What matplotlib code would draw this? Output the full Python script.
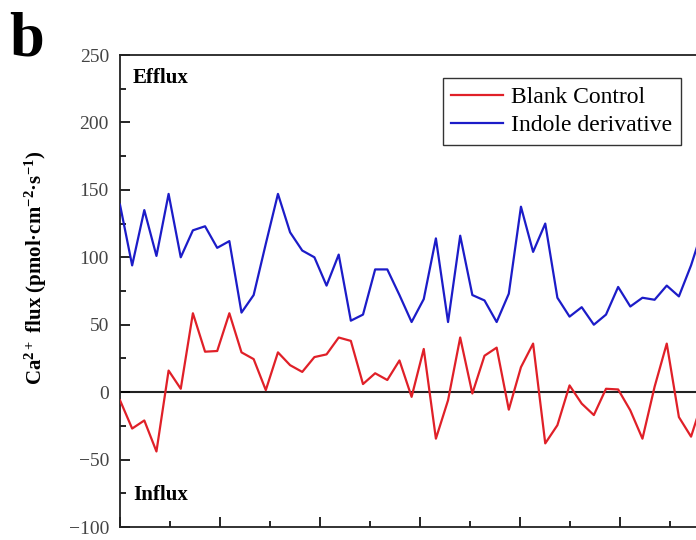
import numpy as np
import matplotlib
matplotlib.use('Agg')
import matplotlib.pyplot as plt
from matplotlib.ticker import MultipleLocator

# Ca2+ flux readings (pmol cm-2 s-1)
blank_control = [-6, -27, -21, -44, 16, 2.5, 58.5, 30, 30.5, 58.5,
                 29.5, 24.5, 1.5, 29.5, 20, 15, 26, 28, 40.5, 38,
                 6, 14, 9, 23.5, -3.5, 32, -34.5, -6, 40.5, -1,
                 27, 33, -13, 18.5, 36, -38, -24.5, 5, -8.5, -17,
                 2.5, 2, -13.5, -34.5, 4, 36, -18.5, -33, -5]
indole_derivative = [139, 94, 135, 101, 147, 100, 120, 123, 107, 112,
                     59, 72, 110, 147, 118.5, 105, 100, 79, 102, 53,
                     57.5, 91, 91, 72, 52, 69, 114, 52, 116, 72,
                     68, 52, 73, 137.5, 104, 125, 70, 56, 63, 50,
                     57.5, 78, 63.5, 70, 68.5, 79, 71, 94, 122]
interval = 0.1215  # sampling interval (min)
t = np.arange(len(blank_control)) * interval

plt.rcParams['font.family'] = ['Liberation Serif', 'DejaVu Serif']
plt.rcParams['mathtext.fontset'] = 'custom'
plt.rcParams['mathtext.rm'] = 'Liberation Serif'
plt.rcParams['mathtext.bf'] = 'Liberation Serif:bold'
plt.rcParams['mathtext.default'] = 'bf'

fig = plt.figure(figsize=(6.96, 5.4), dpi=100)
ax = fig.add_axes([120 / 696, 13 / 540, 600 / 696, 472 / 540])

ax.axhline(0, color='#222222', lw=1.5, zorder=1)
ax.plot(t, blank_control, color='#e02028', lw=1.6, label='Blank Control', zorder=3)
ax.plot(t, indole_derivative, color='#1c1cc8', lw=1.6, label='Indole derivative', zorder=3)

ax.set_xlim(0, 6)
ax.set_ylim(-100, 250)
ax.yaxis.set_major_locator(MultipleLocator(50))
ax.yaxis.set_minor_locator(MultipleLocator(25))
ax.xaxis.set_major_locator(MultipleLocator(1))
ax.xaxis.set_minor_locator(MultipleLocator(0.5))
ax.tick_params(axis='both', which='major', direction='in', length=7, width=1.2,
               labelsize=14, labelcolor='#444444', pad=8)
ax.tick_params(axis='both', which='minor', direction='in', length=4, width=1.2)
ax.tick_params(top=False, right=False, labelbottom=False)
for sp in ax.spines.values():
    sp.set_linewidth(1.3)
    sp.set_color('#222222')

ax.set_ylabel('Ca$^{2+}$ flux (pmol·cm$^{-2}$·s$^{-1}$)',
              fontsize=15, fontweight='bold')
ax.yaxis.set_label_coords(-0.118, 0.549)

ax.text(13 / 600, 0.94, 'Efflux', transform=ax.transAxes, fontsize=15,
        fontweight='bold', va='baseline', ha='left')
ax.text(13 / 600, 0.058, 'Influx', transform=ax.transAxes, fontsize=15,
        fontweight='bold', va='baseline', ha='left')

leg = ax.legend(loc='upper left', bbox_to_anchor=(323 / 600, 449 / 472),
                borderaxespad=0, fancybox=False, edgecolor='#333333',
                fontsize=17, handlelength=2.2, handletextpad=0.35,
                labelspacing=0.3, borderpad=0.35, framealpha=1)
leg.get_frame().set_linewidth(1.0)

fig.text(9 / 696, 1 - 56 / 540, 'b', fontsize=45, fontweight='bold',
         ha='left', va='baseline')

plt.savefig('out.png', dpi=100)
